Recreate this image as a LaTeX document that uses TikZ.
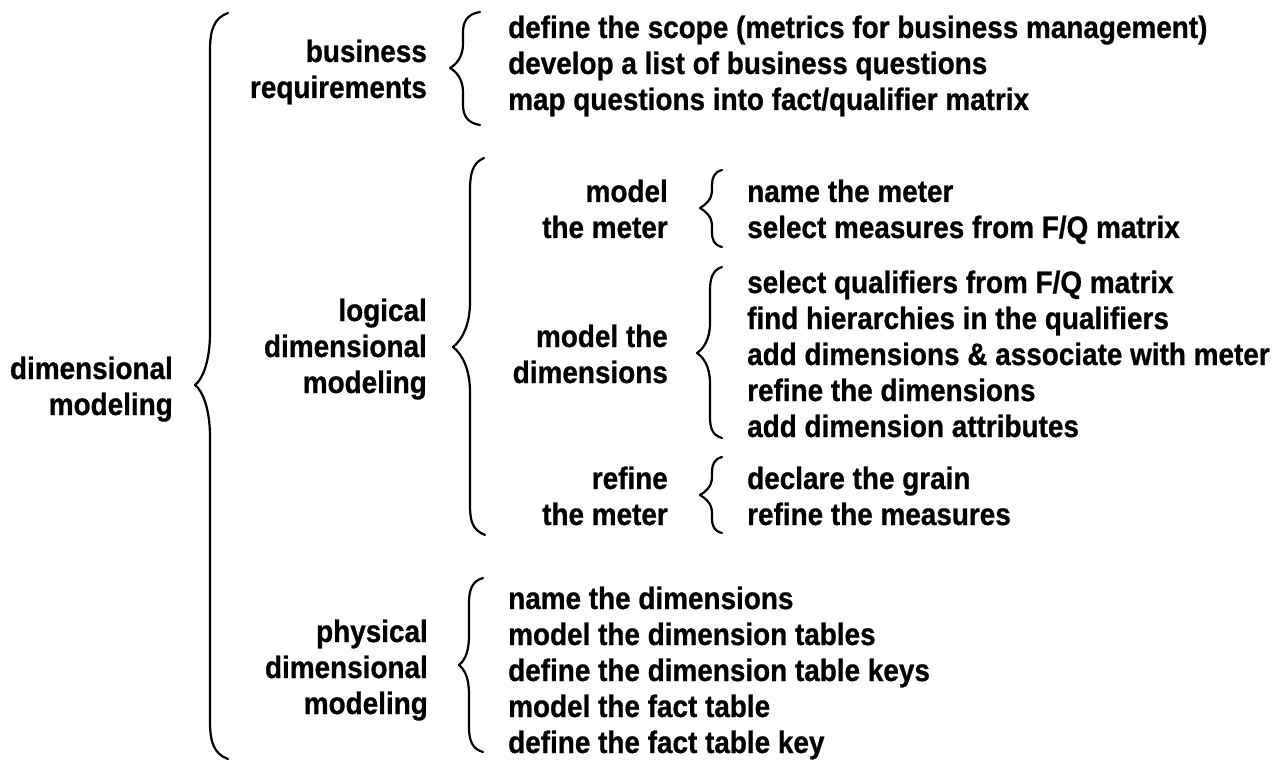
\documentclass[tikz,border=0pt]{standalone}
\usepackage{fontspec}
\setmainfont{Liberation Sans}[FakeStretch=0.9, FakeBold=0.8]
\begin{document}
\begin{tikzpicture}[x=1pt, y=-1pt, every node/.style={inner sep=0pt, font=\fontsize{31}{36}\selectfont\bfseries}, label/.style={anchor=base east, align=right}, tasks/.style={anchor=base west, align=left}, curly/.style={line width=2.2pt, line cap=round, line join=round}]
\useasboundingbox (0,0) rectangle (1286,762);
\node[label] (dm) at (173,415) {dimensional\\modeling};
\draw[curly] (228,13) .. controls (214,18) and (210,30) .. (210,50) -- (210,333) .. controls (210,360) and (203,379) .. (195,385) .. controls (203,391) and (210,410) .. (210,437) -- (210,722) .. controls (210,742) and (214,754) .. (228,759);
\node[label] (br) at (427,98) {business\\requirements};
\draw[curly] (480,12) .. controls (467,14) and (463,22) .. (463,32) -- (463,44) .. controls (463,56) and (457,64) .. (450,68) .. controls (457,72) and (463,80) .. (463,92) -- (463,105) .. controls (463,115) and (467,123) .. (480,125);
\node[tasks] (brtasks) at (508,110) {define the scope (metrics for business management)\\develop a list of business questions\\map questions into fact/qualifier matrix};
\node[label] (ldm) at (427,393) {logical\\dimensional\\modeling};
\draw[curly] (484,158) .. controls (472,163) and (470,175) .. (470,190) -- (470,302) .. controls (470,325) and (462,340) .. (453,347) .. controls (462,354) and (470,369) .. (470,392) -- (470,505) .. controls (470,520) and (472,530) .. (485,535);
\node[label] (mm) at (668,238) {model\\the meter};
\draw[curly] (722,170) .. controls (714,172) and (712,178) .. (712,185) -- (712,190) .. controls (712,200) and (705,205) .. (700,208) .. controls (705,211) and (712,216) .. (712,226) -- (712,232) .. controls (712,240) and (714,245) .. (722,247);
\node[tasks] (mmtasks) at (747,238) {name the meter\\select measures from F/Q matrix};
\node[label] (md) at (668,383) {model the\\dimensions};
\draw[curly] (722,267) .. controls (712,270) and (710,280) .. (710,290) -- (710,323) .. controls (710,340) and (703,349) .. (697,353) .. controls (703,357) and (710,366) .. (710,383) -- (710,416) .. controls (710,428) and (712,435) .. (722,438);
\node[tasks] (mdtasks) at (747,437) {select qualifiers from F/Q matrix\\find hierarchies in the qualifiers\\add dimensions \& associate with meter\\refine the dimensions\\add dimension attributes};
\node[label] (rm) at (668,525) {refine\\the meter};
\draw[curly] (722,457) .. controls (714,459) and (712,465) .. (712,472) -- (712,477) .. controls (712,487) and (705,492) .. (700,495) .. controls (705,498) and (712,503) .. (712,513) -- (712,518) .. controls (712,526) and (714,531) .. (722,533);
\node[tasks] (rmtasks) at (747,525) {declare the grain\\refine the measures};
\node[label] (pdm) at (428,714) {physical\\dimensional\\modeling};
\draw[curly] (483,578) .. controls (472,581) and (469,590) .. (469,603) -- (469,635) .. controls (469,652) and (465,660) .. (459,665) .. controls (465,670) and (469,678) .. (469,695) -- (469,727) .. controls (469,740) and (472,749) .. (483,752);
\node[tasks] (pdmtasks) at (508,753) {name the dimensions\\model the dimension tables\\define the dimension table keys\\model the fact table\\define the fact table key};
\end{tikzpicture}
\end{document}
